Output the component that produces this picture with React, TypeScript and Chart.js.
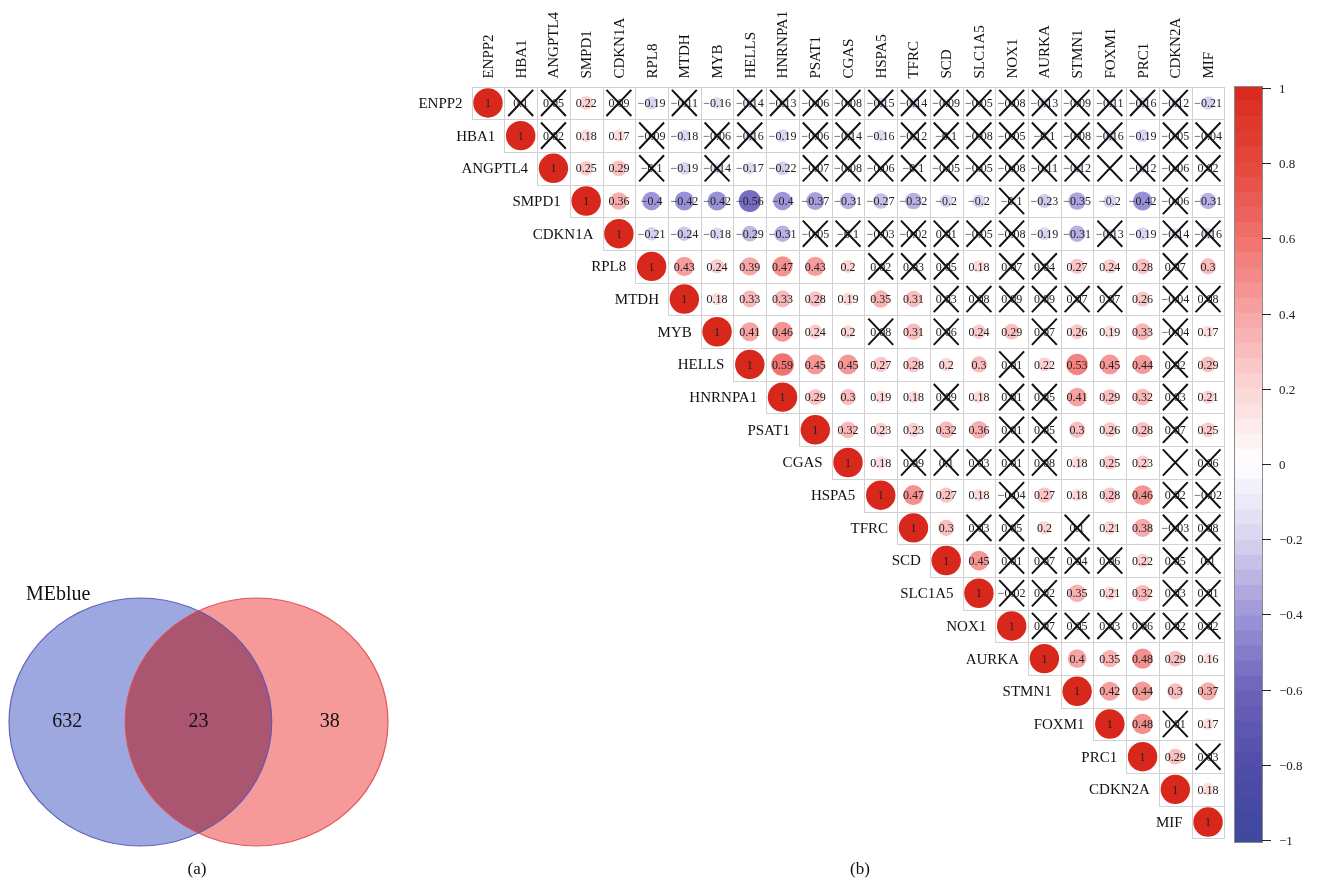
import { useEffect, useRef } from "react";
import { Chart, registerables } from "chart.js";

Chart.register(...registerables);

const genes = [
  "ENPP2", "HBA1", "ANGPTL4", "SMPD1", "CDKN1A", "RPL8", "MTDH", "MYB",
  "HELLS", "HNRNPA1", "PSAT1", "CGAS", "HSPA5", "TFRC", "SCD", "SLC1A5",
  "NOX1", "AURKA", "STMN1", "FOXM1", "PRC1", "CDKN2A", "MIF",
];

// Upper triangle of the correlation matrix; each row starts at its diagonal cell.
const corrRows: number[][] = [
  [1, 0.1, 0.05, 0.22, 0.09, -0.19, -0.11, -0.16, -0.14, -0.13, -0.06, -0.08, -0.15, -0.14, -0.09, -0.05, -0.08, -0.13, -0.09, -0.11, -0.16, -0.12, -0.21],
  [1, 0.02, 0.18, 0.17, -0.09, -0.18, -0.06, -0.16, -0.19, -0.06, -0.14, -0.16, -0.12, -0.1, -0.08, -0.05, -0.1, -0.08, -0.16, -0.19, -0.05, -0.04],
  [1, 0.25, 0.29, -0.1, -0.19, -0.14, -0.17, -0.22, -0.07, -0.08, -0.06, -0.1, -0.05, -0.05, -0.08, -0.11, -0.12, 0, -0.12, -0.06, 0.02],
  [1, 0.36, -0.4, -0.42, -0.42, -0.56, -0.4, -0.37, -0.31, -0.27, -0.32, -0.2, -0.2, -0.1, -0.23, -0.35, -0.2, -0.42, -0.06, -0.31],
  [1, -0.21, -0.24, -0.18, -0.29, -0.31, -0.05, -0.1, -0.03, -0.02, 0.01, -0.05, -0.08, -0.19, -0.31, -0.13, -0.19, -0.14, -0.16],
  [1, 0.43, 0.24, 0.39, 0.47, 0.43, 0.2, 0.02, 0.03, 0.05, 0.18, 0.07, 0.04, 0.27, 0.24, 0.28, 0.07, 0.3],
  [1, 0.18, 0.33, 0.33, 0.28, 0.19, 0.35, 0.31, 0.03, 0.08, 0.09, 0.09, 0.07, 0.07, 0.26, -0.04, 0.08],
  [1, 0.41, 0.46, 0.24, 0.2, 0.08, 0.31, 0.06, 0.24, 0.29, 0.07, 0.26, 0.19, 0.33, -0.04, 0.17],
  [1, 0.59, 0.45, 0.45, 0.27, 0.28, 0.2, 0.3, 0.01, 0.22, 0.53, 0.45, 0.44, 0.02, 0.29],
  [1, 0.29, 0.3, 0.19, 0.18, 0.09, 0.18, 0.01, 0.05, 0.41, 0.29, 0.32, 0.03, 0.21],
  [1, 0.32, 0.23, 0.23, 0.32, 0.36, 0.01, 0.05, 0.3, 0.26, 0.28, 0.07, 0.25],
  [1, 0.18, 0.09, 0.1, 0.03, 0.01, 0.08, 0.18, 0.25, 0.23, 0, 0.06],
  [1, 0.47, 0.27, 0.18, -0.04, 0.27, 0.18, 0.28, 0.46, 0.02, -0.02],
  [1, 0.3, 0.03, 0.05, 0.2, 0.1, 0.21, 0.38, -0.03, 0.08],
  [1, 0.45, 0.01, 0.07, 0.04, 0.06, 0.22, 0.05, 0.1],
  [1, -0.02, 0.02, 0.35, 0.21, 0.32, 0.03, 0.01],
  [1, 0.07, 0.05, 0.03, 0.06, 0.02, 0.02],
  [1, 0.4, 0.35, 0.48, 0.29, 0.16],
  [1, 0.42, 0.44, 0.3, 0.37],
  [1, 0.48, 0.01, 0.17],
  [1, 0.29, 0.03],
  [1, 0.18],
  [1],
];

// Column indices of the non-significant (crossed out) cells in each row.
const crossedCols: number[][] = [
  [1, 2, 4, 6, 8, 9, 10, 11, 12, 13, 14, 15, 16, 17, 18, 19, 20, 21],
  [2, 5, 7, 8, 10, 11, 13, 14, 15, 16, 17, 18, 19, 21, 22],
  [5, 7, 10, 11, 12, 13, 14, 15, 16, 17, 18, 19, 20, 21, 22],
  [16, 21],
  [10, 11, 12, 13, 14, 15, 16, 19, 21, 22],
  [12, 13, 14, 16, 17, 21],
  [14, 15, 16, 17, 18, 19, 21, 22],
  [12, 14, 17, 21],
  [16, 21],
  [14, 16, 17, 21],
  [16, 17, 21],
  [13, 14, 15, 16, 17, 21, 22],
  [16, 21, 22],
  [15, 16, 18, 21, 22],
  [16, 17, 18, 19, 21, 22],
  [16, 17, 21, 22],
  [17, 18, 19, 20, 21, 22],
  [],
  [],
  [21],
  [22],
  [],
  [],
];

const colorbarTicks = [1, 0.8, 0.6, 0.4, 0.2, 0, -0.2, -0.4, -0.6, -0.8, -1];

const vennSetNames = ["MEblue"];
const vennCounts = [632, 23, 38];
const panelLabels = ["(a)", "(b)"];

const SERIF = '"Liberation Serif", "Times New Roman", serif';

// Diverging blue-white-red ramp used for circles and the colour bar.
const rampStops: [number, number[]][] = [
  [-1, [62, 72, 158]],
  [-0.8, [80, 76, 168]],
  [-0.6, [108, 98, 186]],
  [-0.4, [158, 150, 216]],
  [-0.2, [216, 212, 240]],
  [0, [255, 255, 255]],
  [0.2, [252, 214, 214]],
  [0.4, [248, 164, 164]],
  [0.6, [240, 112, 108]],
  [0.8, [228, 70, 60]],
  [1, [216, 40, 28]],
];

function corrColor(v: number): string {
  const t = Math.max(-1, Math.min(1, v));
  for (let i = 0; i < rampStops.length - 1; i++) {
    const [a, ca] = rampStops[i];
    const [b, cb] = rampStops[i + 1];
    if (t >= a && t <= b) {
      const f = (t - a) / (b - a);
      const c = ca.map((x, k) => Math.round(x + (cb[k] - x) * f));
      return `rgb(${c[0]},${c[1]},${c[2]})`;
    }
  }
  return "rgb(255,255,255)";
}

function fmt(v: number): string {
  if (v === 1) return "1";
  const s = String(Math.abs(v));
  return v < 0 ? "\u2212" + s : s;
}

type Cell = { x: number; y: number; v: number; crossed: boolean };

const cells: Cell[] = corrRows.flatMap((row, r) =>
  row.map((v, k) => ({ x: r + k, y: r, v, crossed: crossedCols[r].includes(r + k) }))
);

const matrixPlugin = {
  id: "corrMatrix",
  beforeDatasetsDraw(chart: any) {
    const { ctx } = chart;
    const xs = chart.scales.x;
    const ys = chart.scales.y;
    ctx.save();
    ctx.strokeStyle = "#d2d2d2";
    ctx.lineWidth = 1;
    cells.forEach((c) => {
      const l = Math.round(xs.getPixelForValue(c.x - 0.5));
      const rr = Math.round(xs.getPixelForValue(c.x + 0.5));
      const t = Math.round(ys.getPixelForValue(c.y - 0.5));
      const b = Math.round(ys.getPixelForValue(c.y + 0.5));
      ctx.strokeRect(l + 0.5, t + 0.5, rr - l, b - t);
    });
    ctx.restore();
  },
  afterDatasetsDraw(chart: any) {
    const { ctx } = chart;
    const xs = chart.scales.x;
    const ys = chart.scales.y;
    const cw = xs.getPixelForValue(1) - xs.getPixelForValue(0);
    const ch = ys.getPixelForValue(1) - ys.getPixelForValue(0);
    ctx.save();

    // coefficients
    ctx.font = `12px ${SERIF}`;
    ctx.fillStyle = "#222";
    ctx.textAlign = "center";
    ctx.textBaseline = "middle";
    cells.forEach((c) => {
      if (c.v === 0) return;
      ctx.fillText(fmt(c.v), xs.getPixelForValue(c.x), ys.getPixelForValue(c.y) + 1);
    });

    // crosses over non-significant cells
    ctx.strokeStyle = "#111";
    ctx.lineWidth = 2;
    const hx = cw * 0.38;
    const hy = ch * 0.4;
    cells.forEach((c) => {
      if (!c.crossed) return;
      const px = xs.getPixelForValue(c.x);
      const py = ys.getPixelForValue(c.y);
      ctx.beginPath();
      ctx.moveTo(px - hx, py - hy);
      ctx.lineTo(px + hx, py + hy);
      ctx.moveTo(px + hx, py - hy);
      ctx.lineTo(px - hx, py + hy);
      ctx.stroke();
    });

    // row labels next to the diagonal
    ctx.font = `15px ${SERIF}`;
    ctx.fillStyle = "#111";
    ctx.textAlign = "right";
    genes.forEach((g, i) => {
      ctx.fillText(g, xs.getPixelForValue(i - 0.5) - 9, ys.getPixelForValue(i) + 1);
    });

    // column labels along the top
    ctx.textAlign = "left";
    const top = ys.getPixelForValue(-0.5);
    genes.forEach((g, i) => {
      ctx.save();
      ctx.translate(xs.getPixelForValue(i) + 1, top - 8);
      ctx.rotate(-Math.PI / 2);
      ctx.fillText(g, 0, 0);
      ctx.restore();
    });

    // colour bar
    const barL = 834;
    const barR = 862;
    const yTop = 88;
    const yBot = 840;
    const valToY = (v: number) => yTop + ((1 - v) / 2) * (yBot - yTop);
    const bands = 50;
    const bT = yTop - 2;
    const bB = yBot + 2;
    for (let i = 0; i < bands; i++) {
      const y0 = bT + ((bB - bT) * i) / bands;
      const y1 = bT + ((bB - bT) * (i + 1)) / bands;
      const v = 1 - (2 * (i + 0.5)) / bands;
      ctx.fillStyle = corrColor(v);
      ctx.fillRect(barL, y0, barR - barL, y1 - y0 + 0.6);
    }
    ctx.strokeStyle = "#8a8a8a";
    ctx.lineWidth = 1;
    ctx.strokeRect(barL + 0.5, bT + 0.5, barR - barL, bB - bT);
    ctx.strokeStyle = "#222";
    ctx.fillStyle = "#222";
    ctx.font = `13px ${SERIF}`;
    ctx.textAlign = "left";
    colorbarTicks.forEach((t) => {
      const y = Math.round(valToY(t)) + 0.5;
      ctx.beginPath();
      ctx.moveTo(barR, y);
      ctx.lineTo(barR + 9, y);
      ctx.stroke();
      ctx.fillText(fmt(t), barR + 17, y + 1);
    });

    // panel label
    ctx.font = `17px ${SERIF}`;
    ctx.textAlign = "center";
    ctx.fillStyle = "#111";
    ctx.fillText(panelLabels[1], 460, 870);
    ctx.restore();
  },
};

const vennPlugin = {
  id: "venn",
  beforeDatasetsDraw(chart: any) {
    const { ctx } = chart;
    const xs = chart.scales.x;
    const ys = chart.scales.y;
    const centers = [0, 0.885];
    const rx = xs.getPixelForValue(1) - xs.getPixelForValue(0);
    const ry = Math.abs(ys.getPixelForValue(1) - ys.getPixelForValue(0));
    const cy = ys.getPixelForValue(0);
    const ax = xs.getPixelForValue(centers[0]);
    const bx = xs.getPixelForValue(centers[1]);
    const ell = (cx: number) => {
      ctx.beginPath();
      ctx.ellipse(cx, cy, rx, ry, 0, 0, Math.PI * 2);
    };
    ctx.save();
    ell(ax);
    ctx.fillStyle = "#9ea8e0";
    ctx.fill();
    ell(bx);
    ctx.fillStyle = "#f59a99";
    ctx.fill();
    ctx.save();
    ell(ax);
    ctx.clip();
    ell(bx);
    ctx.fillStyle = "#ab5670";
    ctx.fill();
    ctx.restore();
    ctx.lineWidth = 1.2;
    ell(ax);
    ctx.strokeStyle = "rgba(88,84,184,0.9)";
    ctx.stroke();
    ell(bx);
    ctx.strokeStyle = "rgba(226,72,76,0.9)";
    ctx.stroke();

    // region counts
    ctx.font = `20px ${SERIF}`;
    ctx.fillStyle = "#111";
    ctx.textAlign = "center";
    ctx.textBaseline = "middle";
    const leftMid = (centers[0] - 1 + centers[1] - 1) / 2;
    const midMid = (centers[1] - 1 + centers[0] + 1) / 2;
    const rightMid = (centers[0] + 1 + centers[1] + 1) / 2;
    [leftMid, midMid, rightMid].forEach((m, i) => {
      ctx.fillText(String(vennCounts[i]), xs.getPixelForValue(m), cy);
    });

    // set name
    ctx.textAlign = "left";
    ctx.fillText(vennSetNames[0], 26, 35);

    // panel label
    ctx.font = `17px ${SERIF}`;
    ctx.textAlign = "center";
    ctx.fillText(panelLabels[0], 197, 310);
    ctx.restore();
  },
};

export default function App() {
  const matrixRef = useRef<HTMLCanvasElement>(null);
  const vennRef = useRef<HTMLCanvasElement>(null);

  useEffect(() => {
    const matrix = new Chart(matrixRef.current as HTMLCanvasElement, {
      type: "scatter",
      data: {
        datasets: [
          {
            data: cells as any,
            pointBackgroundColor: (ctx: any) => corrColor(ctx.raw ? ctx.raw.v : 0),
            pointBorderWidth: 0,
            pointBorderColor: "rgba(0,0,0,0)",
            pointHoverRadius: 0,
            pointRadius: (ctx: any) => {
              const raw = ctx.raw;
              if (!raw) return 0;
              const xs = ctx.chart.scales.x;
              const cw = Math.abs(xs.getPixelForValue(1) - xs.getPixelForValue(0));
              if (!isFinite(cw)) return 0;
              return Math.sqrt(Math.abs(raw.v)) * cw * 0.45;
            },
          } as any,
        ],
      },
      options: {
        responsive: false,
        maintainAspectRatio: false,
        animation: false,
        events: [],
        layout: { padding: { left: 71.6, right: 94.6, top: 86.6, bottom: 44.6 } },
        scales: {
          x: { type: "linear", min: -0.5, max: genes.length - 0.5, display: false },
          y: { type: "linear", min: -0.5, max: genes.length - 0.5, reverse: true, display: false },
        },
        plugins: { legend: { display: false }, tooltip: { enabled: false } },
      },
      plugins: [matrixPlugin],
    });

    const venn = new Chart(vennRef.current as HTMLCanvasElement, {
      type: "scatter",
      data: { datasets: [{ data: [], pointRadius: 0 }] },
      options: {
        responsive: false,
        maintainAspectRatio: false,
        animation: false,
        events: [],
        layout: { padding: { left: 9, right: 32, top: 38, bottom: 37 } },
        scales: {
          x: { type: "linear", min: -1, max: 1.885, display: false },
          y: { type: "linear", min: -1, max: 1, display: false },
        },
        plugins: { legend: { display: false }, tooltip: { enabled: false } },
      },
      plugins: [vennPlugin],
    });

    return () => {
      matrix.destroy();
      venn.destroy();
    };
  }, []);

  return (
    <div style={{ position: "absolute", left: 0, top: 0, width: 1319, height: 883, background: "#fff" }}>
      <canvas
        ref={vennRef}
        width={420}
        height={323}
        style={{ position: "absolute", left: 0, top: 560, width: 420, height: 323 }}
      />
      <canvas
        ref={matrixRef}
        width={919}
        height={883}
        style={{ position: "absolute", left: 400, top: 0, width: 919, height: 883 }}
      />
    </div>
  );
}
